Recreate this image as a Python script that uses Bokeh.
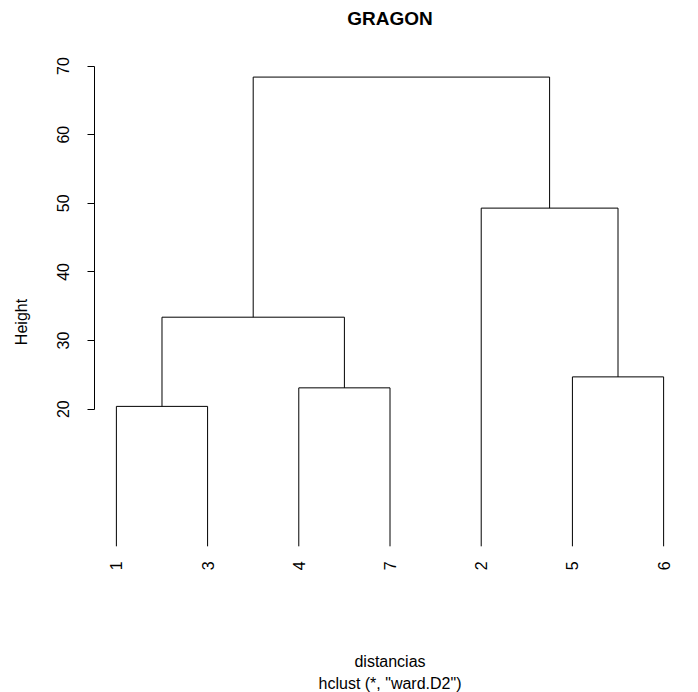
import math
from bokeh.plotting import figure
from bokeh.models import FixedTicker, Title, LinearAxis, ColumnDataSource
from bokeh.core.properties import value
from bokeh.embed import file_html
from bokeh.resources import INLINE

# ---- data ----
leaf_order = [1, 3, 4, 7, 2, 5, 6]          # order of observations along x
merge_a = [-1, -4, -5, 1, -2, 4]            # hclust-style merge matrix (negative = observation)
merge_b = [-3, -7, -6, 2, 3, 5]
merge_height = [20.4, 23.1, 24.7, 33.4, 49.3, 68.4]
y_ticks = [20, 30, 40, 50, 60, 70]
leaf_height = 0.0
title_text = "GRAGON"
xlab_text = "distancias"
sub_text = 'hclust (*, "ward.D2")'
ylab_text = "Height"

# ---- layout constants (data units) ----
label_space = 3.0      # room kept below the leaves for their labels (as R does)
label_offset = 2.2     # gap between leaf end and its label

# ---- build dendrogram paths ----
pos = {obs: i + 1 for i, obs in enumerate(leaf_order)}
cx, cy = {}, {}
xs, ys = [], []
for i, (a, b) in enumerate(zip(merge_a, merge_b)):
    h = merge_height[i]
    def child(c):
        if c < 0:
            return pos[-c], leaf_height
        return cx[c], cy[c]
    xa, ya = child(a)
    xb, yb = child(b)
    xs.append([xa, xa, xb, xb])
    ys.append([ya, h, h, yb])
    cx[i + 1] = (xa + xb) / 2
    cy[i + 1] = h

n = len(leaf_order)
xpad = 0.04 * (n - 1)
ylo, yhi = leaf_height - label_space, max(merge_height)
ypad = 0.04 * (yhi - ylo)

FONT = "Liberation Sans"
W, H = 698, 692
BL, BR, BT, BB = 94, 13, 57, 106

p = figure(width=W, height=H, output_backend="svg", toolbar_location=None, title=None,
           x_range=(1 - xpad, n + xpad), y_range=(ylo - ypad, yhi + ypad),
           min_border_left=BL, min_border_right=BR, min_border_top=BT, min_border_bottom=BB)
p.outline_line_color = None
p.grid.visible = False
p.background_fill_color = "white"
p.border_fill_color = "white"

p.multi_line(xs, ys, line_color="black", line_width=1)

# leaf labels, right-aligned and rotated, below the leaves (inside the plot region, like R)
lab_src = ColumnDataSource(dict(
    x=[pos[o] for o in leaf_order],
    y=[leaf_height - label_offset] * n,
    t=[str(o) for o in leaf_order]))
p.text(x="x", y="y", text="t", source=lab_src, angle=math.pi / 2,
       text_align="right", text_baseline="middle", text_font=value(FONT),
       text_font_size="16px", text_color="black")

# y axis
ya_ = p.yaxis[0]
ya_.ticker = FixedTicker(ticks=y_ticks)
ya_.bounds = (min(y_ticks), max(y_ticks))
ya_.major_tick_out = 7
ya_.major_tick_in = 0
ya_.minor_tick_line_color = None
ya_.axis_line_color = "black"
ya_.major_tick_line_color = "black"
ya_.major_label_orientation = "vertical"
ya_.major_label_text_font = FONT
ya_.major_label_text_font_size = "16px"
ya_.major_label_text_color = "black"
ya_.major_label_standoff = 18
ya_.axis_label = ylab_text
ya_.axis_label_text_font = FONT
ya_.axis_label_text_font_size = "16px"
ya_.axis_label_text_font_style = "normal"
ya_.axis_label_text_color = "black"
ya_.axis_label_standoff = 25

# x axis: only carries the x label
xa_ = p.xaxis[0]
xa_.ticker = FixedTicker(ticks=[])
xa_.axis_line_color = None
xa_.major_tick_line_color = None
xa_.minor_tick_line_color = None
xa_.major_tick_out = 0
xa_.major_tick_in = 0
xa_.major_label_standoff = 0
xa_.axis_label = xlab_text
xa_.axis_label_text_font = FONT
xa_.axis_label_text_font_size = "16px"
xa_.axis_label_text_font_style = "normal"
xa_.axis_label_text_color = "black"
xa_.axis_label_standoff = 66

# sub title
p.add_layout(Title(text=sub_text, align="center", text_font=FONT, text_font_size="16px",
                   text_font_style="normal", text_color="black", standoff=0), "below")

# main title, carried by a tick-less axis above the frame (centred on the plot region)
top_axis = LinearAxis(ticker=FixedTicker(ticks=[]), axis_line_color=None,
                      major_tick_line_color=None, minor_tick_line_color=None,
                      major_tick_out=0, major_tick_in=0, major_label_standoff=0,
                      axis_label=title_text, axis_label_text_font=FONT,
                      axis_label_text_font_size="19px", axis_label_text_font_style="bold",
                      axis_label_text_color="black", axis_label_standoff=29)
p.add_layout(top_axis, "above")

open("out.html", "w").write(file_html(p, INLINE))
